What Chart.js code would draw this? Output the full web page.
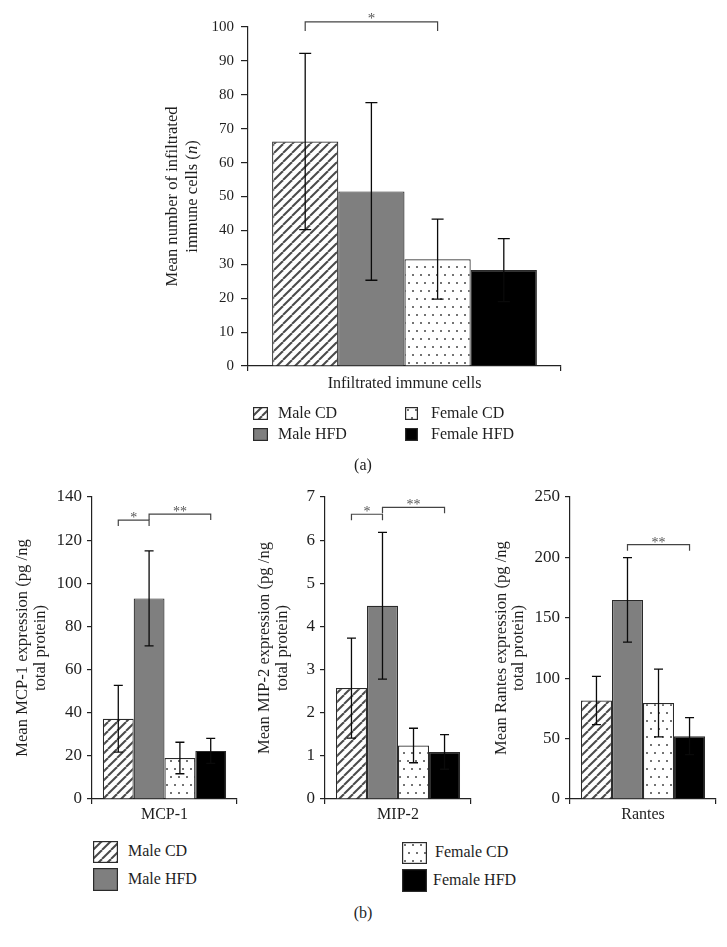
<!DOCTYPE html>
<html>
<head>
<meta charset="utf-8">
<script src="https://cdn.jsdelivr.net/npm/chart.js@4.4.1/dist/chart.umd.min.js"></script>
<style>
  body { margin: 0; background: #fff; width: 727px; height: 947px; position: relative; overflow: hidden;
         font-family: 'Liberation Serif', 'Times New Roman', serif; color: #1e1e1e; }
  canvas { position: absolute; }
  .lg { position: absolute; font-size: 16px; line-height: 18px; white-space: nowrap; }
  .panel { position: absolute; font-size: 16px; line-height: 18px; width: 60px; text-align: center; }
</style>
</head>
<body>
<canvas id="chartA" width="450" height="400" style="left:130px;top:0"></canvas>
<canvas id="chartMcp" width="245" height="360" style="left:0;top:470px"></canvas>
<canvas id="chartMip" width="235" height="360" style="left:245px;top:470px"></canvas>
<canvas id="chartRantes" width="247" height="360" style="left:480px;top:470px"></canvas>
<div class="panel" style="left:333px;top:456px">(a)</div>
<div class="panel" style="left:333px;top:904px">(b)</div>
<script>
const groups = ['Male CD', 'Male HFD', 'Female CD', 'Female HFD'];

// (a) infiltrated immune cells
const cellsLabel = ['Infiltrated immune cells'];
const cellsMean = [66.2, 51.5, 31.5, 28.3];
const cellsSem = [26.0, 26.2, 11.8, 9.3];
const cellsAxis = [0, 100, 10];
const cellsSig = [[0, 2, 101.5, '*']];

// (b) chemokines
const mcpLabel = ['MCP-1'];
const mcpMean = [37.2, 93.0, 19.0, 22.3];
const mcpSem = [15.5, 22.0, 7.3, 5.8];
const mcpAxis = [0, 140, 20];
const mcpSig = [[0, 1, 129.3, '*'], [1, 3, 132.1, '**']];

const mipLabel = ['MIP-2'];
const mipMean = [2.57, 4.48, 1.24, 1.09];
const mipSem = [1.16, 1.70, 0.40, 0.40];
const mipAxis = [0, 7, 1];
const mipSig = [[0, 1, 6.6, '*'], [1, 3, 6.76, '**']];

const rantesLabel = ['Rantes'];
const rantesMean = [81.5, 164.8, 79.5, 52.0];
const rantesSem = [20.0, 35.0, 28.0, 15.3];
const rantesAxis = [0, 250, 50];
const rantesSig = [[1, 3, 210.5, '**']];

Chart.defaults.font.family = "'Liberation Serif', 'Times New Roman', serif";
Chart.defaults.font.size = 16;
Chart.defaults.color = '#1e1e1e';

function hatch(ctx) {
  const s = 9;
  const c = document.createElement('canvas');
  c.width = c.height = s;
  const g = c.getContext('2d');
  g.fillStyle = '#fff';
  g.fillRect(0, 0, s, s);
  g.strokeStyle = '#4a4a4a';
  g.lineWidth = 2;
  for (let k = -1; k <= 1; k++) {
    g.beginPath();
    g.moveTo(k * s, s);
    g.lineTo(k * s + s, 0);
    g.stroke();
  }
  return ctx.createPattern(c, 'repeat');
}

function dots(ctx) {
  const c = document.createElement('canvas');
  c.width = c.height = 16;
  const g = c.getContext('2d');
  g.fillStyle = '#fff';
  g.fillRect(0, 0, 16, 16);
  g.fillStyle = '#444';
  [[3, 3], [11, 3], [7, 11], [15, 11]].forEach(([x, y]) => {
    g.beginPath();
    g.arc(x, y, 1, 0, Math.PI * 2);
    g.fill();
  });
  return ctx.createPattern(c, 'repeat');
}

function fills(ctx) {
  return [hatch(ctx), '#7f7f7f', dots(ctx), '#000'];
}

// error bars and significance brackets
const errorBars = {
  id: 'errorBars',
  afterDatasetsDraw(chart, args, opts) {
    const { ctx } = chart;
    const y = chart.scales.y;
    ctx.save();
    ctx.strokeStyle = '#0a0a0a';
    ctx.lineWidth = 1.3;
    opts.sem.forEach((e, i) => {
      const bar = chart.getDatasetMeta(i).data[0];
      const v = chart.data.datasets[i].data[0];
      const top = y.getPixelForValue(v + e);
      const bot = y.getPixelForValue(v - e);
      ctx.beginPath();
      ctx.moveTo(bar.x, bot);
      ctx.lineTo(bar.x, top);
      ctx.moveTo(bar.x - opts.cap, top);
      ctx.lineTo(bar.x + opts.cap, top);
      ctx.moveTo(bar.x - opts.cap, bot);
      ctx.lineTo(bar.x + opts.cap, bot);
      ctx.stroke();
    });
    ctx.strokeStyle = '#444';
    ctx.fillStyle = '#555';
    ctx.lineWidth = 1.2;
    ctx.font = opts.starFont + "px 'Liberation Serif', serif";
    ctx.textAlign = 'center';
    ctx.textBaseline = 'alphabetic';
    opts.sig.forEach(([a, b, val, txt]) => {
      const xa = chart.getDatasetMeta(a).data[0].x;
      const xb = chart.getDatasetMeta(b).data[0].x;
      const yy = y.getPixelForValue(val);
      ctx.beginPath();
      ctx.moveTo(xa, yy + opts.leg);
      ctx.lineTo(xa, yy);
      ctx.lineTo(xb, yy);
      ctx.lineTo(xb, yy + opts.leg);
      ctx.stroke();
      ctx.fillText(txt, (xa + xb) / 2, yy + opts.starDy);
    });
    ctx.restore();
  }
};

// rotated two-line y titles; a segment flagged true is italic
const yTitles = {
  id: 'yTitles',
  afterDraw(chart, args, opts) {
    const { ctx, chartArea } = chart;
    const cy = (chartArea.top + chartArea.bottom) / 2;
    const fam = "'Liberation Serif', serif";
    ctx.save();
    ctx.fillStyle = '#1e1e1e';
    ctx.textBaseline = 'middle';
    ctx.textAlign = 'left';
    ctx.translate(opts.x, cy);
    ctx.rotate(-Math.PI / 2);
    opts.lines.forEach((segs, li) => {
      const font = it => (it ? 'italic ' : '') + opts.size + 'px ' + fam;
      let total = 0;
      segs.forEach(([t, it]) => { ctx.font = font(it); total += ctx.measureText(t).width; });
      let x = -total / 2;
      segs.forEach(([t, it]) => {
        ctx.font = font(it);
        ctx.fillText(t, x, li * opts.gap);
        x += ctx.measureText(t).width;
      });
    });
    ctx.restore();
  }
};

function buildChart(id, cfg) {
  const ctx = document.getElementById(id).getContext('2d');
  const f = fills(ctx);
  return new Chart(ctx, {
    type: 'bar',
    data: {
      labels: cfg.labels,
      datasets: groups.map((g, i) => ({
        label: g,
        data: [cfg.means[i]],
        backgroundColor: f[i],
        borderColor: '#2a2a2a',
        borderWidth: 1.2,
        barPercentage: 1,
        categoryPercentage: cfg.catPct
      }))
    },
    options: {
      responsive: false,
      animation: false,
      devicePixelRatio: 1,
      layout: { padding: { left: 0, top: cfg.padTop, right: cfg.padRight, bottom: 0 } },
      plugins: {
        legend: { display: false },
        tooltip: { enabled: false },
        errorBars: { sem: cfg.sem, sig: cfg.sig, cap: cfg.cap, leg: cfg.leg, starFont: cfg.starFont, starDy: cfg.starDy },
        yTitles: { lines: cfg.title, x: cfg.titleX, gap: cfg.titleGap, size: 16.6 }
      },
      scales: {
        x: {
          grid: { display: true, drawOnChartArea: false, drawTicks: true, tickLength: 5, color: '#222', lineWidth: 1.2 },
          border: { color: '#222', width: 1.2 },
          ticks: { color: '#1e1e1e', font: { size: 16 }, padding: cfg.xPad },
          afterFit: s => { s.height = cfg.xHeight; }
        },
        y: {
          min: cfg.axis[0],
          max: cfg.axis[1],
          ticks: { stepSize: cfg.axis[2], color: '#1e1e1e', font: { size: cfg.yFont }, padding: cfg.yPad },
          grid: { display: true, drawOnChartArea: false, drawTicks: true, tickLength: cfg.yTick, color: '#222', lineWidth: 1.2 },
          border: { color: '#222', width: 1.2 },
          afterFit: s => { s.width = cfg.yWidth; }
        }
      }
    },
    plugins: [errorBars, yTitles]
  });
}

buildChart('chartA', {
  labels: cellsLabel, means: cellsMean, sem: cellsSem, sig: cellsSig, axis: cellsAxis,
  catPct: 0.846, padTop: 27, padRight: 19, yWidth: 118, xHeight: 34,
  yTick: 7, yPad: 7, yFont: 15, xPad: 3, cap: 6, leg: 9, starFont: 15, starDy: 1,
  title: [[['Mean number of infiltrated']], [['immune cells ('], ['n', true], [')']]],
  titleX: 43, titleGap: 20
});

const chemTitle = name => [[['Mean ' + name + ' expression (pg /ng']], [['total protein)']]];

buildChart('chartMcp', {
  labels: mcpLabel, means: mcpMean, sem: mcpSem, sig: mcpSig, axis: mcpAxis,
  catPct: 0.85, padTop: 27, padRight: 8, yWidth: 92, xHeight: 31,
  yTick: 5, yPad: 5, yFont: 17, xPad: 1, cap: 4.5, leg: 6, starFont: 14, starDy: 2,
  title: chemTitle('MCP-1'), titleX: 23, titleGap: 17.5
});

buildChart('chartMip', {
  labels: mipLabel, means: mipMean, sem: mipSem, sig: mipSig, axis: mipAxis,
  catPct: 0.85, padTop: 27, padRight: 9, yWidth: 80, xHeight: 31,
  yTick: 5, yPad: 5, yFont: 17, xPad: 1, cap: 4.5, leg: 6, starFont: 14, starDy: 2,
  title: chemTitle('MIP-2'), titleX: 20, titleGap: 18
});

buildChart('chartRantes', {
  labels: rantesLabel, means: rantesMean, sem: rantesSem, sig: rantesSig, axis: rantesAxis,
  catPct: 0.85, padTop: 27, padRight: 11, yWidth: 90, xHeight: 31,
  yTick: 5, yPad: 5, yFont: 17, xPad: 1, cap: 4.5, leg: 6, starFont: 14, starDy: 2,
  title: chemTitle('Rantes'), titleX: 22, titleGap: 16.5
});

// legends: [swatch x, y, w, h, text x, text centre y]
const legendA = [[253, 407, 15, 13, 278, 413], [253, 428, 15, 13, 278, 434], [405, 407, 13, 13, 431, 413], [405, 428, 13, 13, 431, 434]];
const legendB = [[93, 841, 25, 22, 128, 851], [93, 868, 25, 23, 128, 879], [402, 842, 25, 22, 435, 852], [402, 869, 25, 23, 433, 880]];

function drawLegend(layout) {
  layout.forEach(([x, y, w, h, tx, ty], i) => {
    const c = document.createElement('canvas');
    c.width = w;
    c.height = h;
    c.style.left = x + 'px';
    c.style.top = y + 'px';
    document.body.appendChild(c);
    const g = c.getContext('2d');
    g.fillStyle = fills(g)[i];
    g.fillRect(0, 0, w, h);
    g.strokeStyle = '#2a2a2a';
    g.lineWidth = 1.2;
    g.strokeRect(0.6, 0.6, w - 1.2, h - 1.2);
    const d = document.createElement('div');
    d.className = 'lg';
    d.style.left = tx + 'px';
    d.style.top = (ty - 9) + 'px';
    d.textContent = groups[i];
    document.body.appendChild(d);
  });
}
drawLegend(legendA);
drawLegend(legendB);
</script>
</body>
</html>
